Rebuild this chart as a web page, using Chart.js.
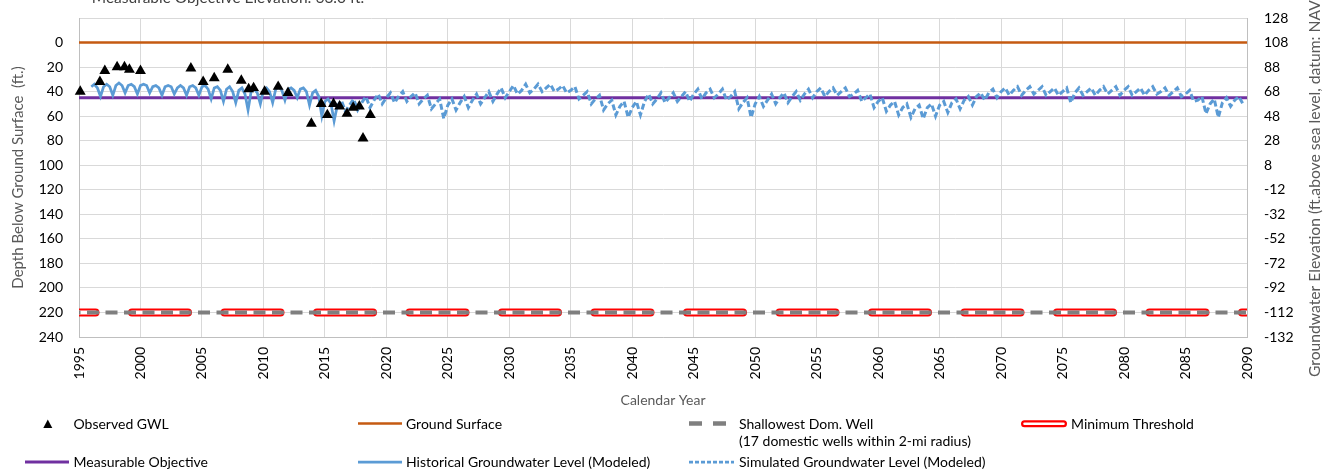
<!DOCTYPE html>
<html>
<head>
<meta charset="utf-8">
<script src="https://cdn.jsdelivr.net/npm/chart.js@4.4.0/dist/chart.umd.min.js"></script>
<style>
  body { margin: 0; background: #fff; }
  #wrap { width: 1336px; height: 475px; }
</style>
</head>
<body>
<div id="wrap"><canvas id="gwl" width="1336" height="475"></canvas></div>
<script>
// ---- data (depth below ground surface, ft.) ----
const yearRange = [1995, 2090];
const groundSurfaceDepth = 0;
const measurableObjectiveDepth = 45;
const minimumThresholdDepth = 220;
const shallowestWellDepth = 220;

// observed groundwater levels
const obsYears = [1995.1, 1996.7, 1997.1, 1998.1, 1998.7, 1999.1, 2000.0, 2004.1, 2005.1, 2006.0,
                  2007.1, 2008.2, 2008.8, 2009.2, 2010.1, 2011.2, 2012.0, 2013.9, 2014.7, 2015.2,
                  2015.7, 2016.2, 2016.8, 2017.3, 2017.8, 2018.1, 2018.7];
const obsDepth = [40, 32, 23, 20, 20, 22, 23, 21, 32, 29,
                  22, 31, 38, 37, 40, 36, 41, 66, 50, 59,
                  50, 52, 58, 53, 52, 78, 59];

// historical modeled level, quarterly samples (Jan, Apr, Jul, Oct)
const histStart = 1996;
const histPerYear = 4;
const histDepth = [
  36, 34, 37, 44,   // 1996
  36, 34, 36, 43,   // 1997
  35, 33, 35, 41,   // 1998
  35, 34, 36, 42,   // 1999
  35, 34, 35, 41,   // 2000
  36, 35, 37, 43,   // 2001
  36, 35, 36, 42,   // 2002
  37, 35, 37, 43,   // 2003
  36, 35, 37, 43,   // 2004
  36, 35, 38, 46,   // 2005
  37, 36, 39, 48,   // 2006
  38, 36, 40, 49,   // 2007
  39, 37, 42, 55,   // 2008
  40, 38, 41, 50,   // 2009
  39, 37, 40, 49,   // 2010
  38, 36, 39, 47,   // 2011
  38, 37, 39, 45,   // 2012
  38, 37, 40, 51,   // 2013
  41, 39, 44, 60,   // 2014
  48, 46, 50, 64,   // 2015
  52                // 2016
];

// simulated modeled level, three samples per year
const simStart = 2016;
const simPerYear = 3;
const simDepth = [
  52, 47, 56,  51, 46, 55,  49, 44, 53,  47, 42, 50,   // 2016-2019
  45, 41, 49,  44, 40, 48,  44, 41, 50,  46, 43, 54,   // 2020-2023
  50, 46, 62,  51, 46, 55,  49, 44, 53,  47, 42, 50,   // 2024-2027
  45, 40, 48,  42, 37, 45,  40, 35, 42,  39, 34, 41,   // 2028-2031
  38, 34, 40,  37, 34, 40,  38, 35, 41,  39, 36, 46,   // 2032-2035
  43, 40, 50,  46, 43, 55,  50, 47, 59,  52, 48, 61,   // 2036-2039
  53, 48, 59,  48, 42, 50,  46, 41, 49,  45, 41, 48,   // 2040-2043
  44, 40, 48,  42, 38, 46,  41, 38, 45,  42, 38, 47,   // 2044-2047
  44, 40, 54,  49, 45, 61,  50, 44, 52,  47, 42, 50,   // 2048-2051
  45, 41, 49,  44, 40, 47,  42, 38, 45,  40, 37, 44,   // 2052-2055
  40, 37, 43,  40, 37, 44,  42, 39, 48,  45, 42, 53,   // 2056-2059
  48, 45, 56,  51, 48, 59,  53, 50, 61,  54, 51, 62,   // 2060-2063
  53, 50, 60,  51, 48, 57,  49, 46, 54,  47, 44, 51,   // 2064-2067
  44, 41, 47,  41, 38, 45,  40, 37, 43,  39, 36, 43,   // 2068-2071
  39, 36, 42,  39, 36, 43,  40, 37, 43,  40, 37, 49,   // 2072-2075
  41, 37, 43,  40, 37, 43,  39, 36, 42,  39, 36, 43,   // 2076-2079
  39, 36, 43,  40, 37, 43,  39, 36, 42,  40, 37, 43,   // 2080-2083
  40, 37, 44,  42, 39, 48,  47, 44, 58,  50, 46, 61,   // 2084-2087
  49, 45, 52,  47, 44, 50                              // 2088-2089
];

// ---- build point lists ----
const obsPoints = obsYears.map((yr, i) => ({ x: yr, y: obsDepth[i] }));
const histPoints = histDepth.map((d, i) => ({ x: histStart + i / histPerYear, y: d }));
const simPoints = simDepth.map((d, i) => ({ x: simStart + i / simPerYear, y: d }));
const flat = depth => yearRange.map(yr => ({ x: yr, y: depth }));

const FONT = "Lato, 'Open Sans', sans-serif";
const blue = '#5b9bd5';

// cropped chart title, right axis title (reads bottom-up, runs off the top)
// and the spreadsheet style legend below the axis
const sheetDecor = {
  id: 'sheetDecor',
  afterDraw(chart) {
    const c = chart.ctx;
    c.save();
    c.font = '15.5px ' + FONT;
    c.fillStyle = '#404040';
    c.textAlign = 'center';
    c.textBaseline = 'alphabetic';
    c.fillText('Measurable Objective Elevation: 63.0 ft.', 228, 3);

    // right axis title
    c.save();
    const rightTitle = 'Groundwater Elevation (ft.above sea level, datum: NAVD88)';
    c.font = '15px ' + FONT;
    const seen = c.measureText('Groundwater Elevation (ft.above sea level, datum: NAV').width;
    c.font = (15 * 377 / seen).toFixed(2) + 'px ' + FONT;
    c.translate(1315, 377);
    c.rotate(-Math.PI / 2);
    c.fillStyle = '#595959';
    c.textAlign = 'left';
    c.textBaseline = 'middle';
    c.fillText(rightTitle, 0, 0);
    c.restore();

    const line = (x1, x2, y, color, width, dash, cap) => {
      c.beginPath();
      c.setLineDash(dash || []);
      c.lineCap = cap || 'butt';
      c.strokeStyle = color;
      c.lineWidth = width;
      c.moveTo(x1, y);
      c.lineTo(x2, y);
      c.stroke();
      c.setLineDash([]);
    };

    // symbols
    c.beginPath();
    c.moveTo(47.8, 419.5);
    c.lineTo(43.3, 428);
    c.lineTo(52.3, 428);
    c.closePath();
    c.fillStyle = '#000';
    c.fill();
    line(358, 402, 423.5, '#c55a11', 2.5);
    line(689, 702, 423.5, '#7f7f7f', 4.5);
    line(713, 726, 423.5, '#7f7f7f', 4.5);
    line(1024.5, 1063.5, 423.8, '#ff0000', 7, null, 'round');
    line(1024.5, 1063.5, 423.8, '#ffffff', 2.5, null, 'round');
    line(25, 69, 462, '#7030a0', 3);
    line(358, 402, 462, blue, 2.75);
    line(689, 734, 462, blue, 2.75, [4, 2]);

    // labels
    c.font = '14px ' + FONT;
    c.fillStyle = '#000';
    c.textAlign = 'left';
    c.textBaseline = 'middle';
    c.fillText('Observed GWL', 73.5, 424);
    c.fillText('Ground Surface', 406, 424);
    c.fillText('Shallowest Dom. Well', 739, 424);
    c.fillText('(17 domestic wells within 2-mi radius)', 739, 441);
    c.fillText('Minimum Threshold', 1071, 424);
    c.fillText('Measurable Objective', 73.5, 462.5);
    c.fillText('Historical Groundwater Level (Modeled)', 406, 462.5);
    c.fillText('Simulated Groundwater Level (Modeled)', 739, 462.5);
    c.restore();
  }
};

// keep tick label overflow from pushing the plot area around
const fixSize = (w, h) => s => {
  if (w !== null) s.width = w;
  if (h !== null) s.height = h;
  s.paddingTop = 0;
  s.paddingBottom = 0;
};

const ctx = document.getElementById('gwl').getContext('2d');
new Chart(ctx, {
  type: 'line',
  data: {
    datasets: [
      {
        label: 'Observed GWL',
        data: obsPoints,
        showLine: false,
        pointStyle: 'triangle',
        pointRadius: 6.3,
        backgroundColor: '#000',
        borderColor: '#000',
        borderWidth: 0,
        clip: false,
        order: 0
      },
      {
        label: 'Simulated Groundwater Level (Modeled)',
        data: simPoints,
        borderColor: blue,
        borderWidth: 3,
        borderDash: [6, 3],
        pointRadius: 0,
        order: 1
      },
      {
        label: 'Historical Groundwater Level (Modeled)',
        data: histPoints,
        borderColor: blue,
        borderWidth: 2.75,
        pointRadius: 0,
        order: 2
      },
      {
        label: 'Measurable Objective',
        data: flat(measurableObjectiveDepth),
        borderColor: '#7030a0',
        borderWidth: 3,
        pointRadius: 0,
        order: 3
      },
      {
        label: 'Ground Surface',
        data: flat(groundSurfaceDepth),
        borderColor: '#c55a11',
        borderWidth: 2.5,
        pointRadius: 0,
        order: 4
      },
      {
        label: 'Shallowest Dom. Well',
        data: flat(shallowestWellDepth),
        borderColor: '#7f7f7f',
        borderWidth: 4,
        borderDash: [12, 6.5],
        borderDashOffset: 10.5,
        pointRadius: 0,
        clip: 0,
        order: 5
      },
      {
        label: 'Minimum Threshold (inner)',
        data: flat(minimumThresholdDepth),
        borderColor: '#ffffff',
        borderWidth: 4,
        borderDash: [56, 36.5],
        borderDashOffset: 39.5,
        borderCapStyle: 'round',
        pointRadius: 0,
        clip: 0,
        order: 6
      },
      {
        label: 'Minimum Threshold',
        data: flat(minimumThresholdDepth),
        borderColor: '#ff0000',
        borderWidth: 8,
        borderDash: [56, 36.5],
        borderDashOffset: 39.5,
        borderCapStyle: 'round',
        pointRadius: 0,
        clip: 0,
        order: 7
      }
    ]
  },
  options: {
    responsive: false,
    animation: false,
    events: [],
    layout: { padding: { top: 18, bottom: 58, left: 0, right: 0 } },
    plugins: {
      legend: { display: false },
      tooltip: { enabled: false }
    },
    scales: {
      x: {
        type: 'linear',
        min: yearRange[0],
        max: yearRange[1],
        ticks: {
          stepSize: 5,
          autoSkip: false,
          minRotation: 90,
          maxRotation: 90,
          padding: 10,
          color: '#000',
          font: { family: FONT, size: 14 },
          callback: v => String(v)
        },
        grid: { color: '#d9d9d9', drawTicks: false },
        border: { color: '#bfbfbf' },
        title: {
          display: true,
          text: 'Calendar Year',
          color: '#595959',
          font: { family: FONT, size: 14 },
          padding: { top: 0, bottom: 8 }
        },
        afterFit: fixSize(null, 80)
      },
      y: {
        position: 'left',
        reverse: true,
        min: -20,
        max: 240,
        ticks: {
          stepSize: 20,
          padding: 16,
          color: '#000',
          font: { family: FONT, size: 14 },
          callback: v => (v < 0 ? '' : String(v))
        },
        grid: { color: '#d9d9d9', drawTicks: false },
        border: { color: '#bfbfbf' },
        title: {
          display: true,
          text: 'Depth Below Ground Surface  (ft.)',
          color: '#595959',
          font: { family: FONT, size: 15 },
          padding: { top: 9, bottom: 0 }
        },
        afterFit: fixSize(79, null)
      },
      y2: {
        position: 'right',
        min: -132,
        max: 128,
        ticks: {
          stepSize: 20,
          padding: 17,
          color: '#000',
          font: { family: FONT, size: 14 },
          callback: v => String(v)
        },
        grid: { drawOnChartArea: false, drawTicks: false },
        border: { color: '#bfbfbf' },
        afterFit: fixSize(89, null)
      }
    }
  },
  plugins: [sheetDecor]
});
</script>
</body>
</html>
